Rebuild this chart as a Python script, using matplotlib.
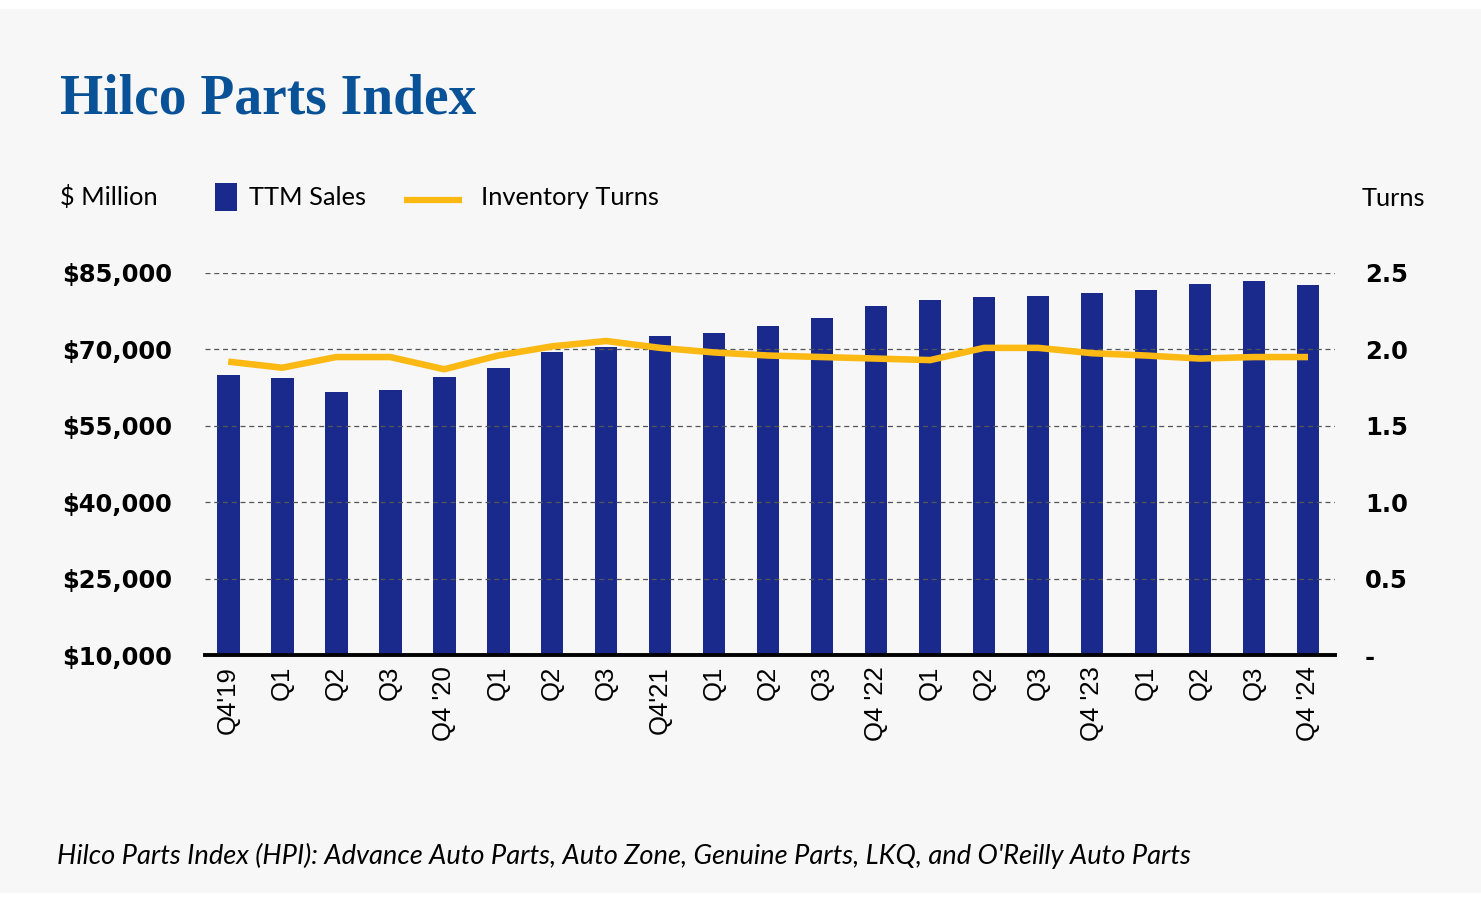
import matplotlib
matplotlib.use("Agg")
import matplotlib.pyplot as plt
from matplotlib.patches import Rectangle
from matplotlib.lines import Line2D
import numpy as np

# ---- data ----
quarters = ["Q4'19", "Q1", "Q2", "Q3", "Q4 '20", "Q1", "Q2", "Q3", "Q4'21", "Q1", "Q2",
            "Q3", "Q4 '22", "Q1", "Q2", "Q3", "Q4 '23", "Q1", "Q2", "Q3", "Q4 '24"]
ttm_sales = [64950, 64350, 61700, 62000, 64650, 66400, 69400, 70550, 72600, 73200, 74650,
             76100, 78450, 79650, 80250, 80550, 81150, 81700, 82900, 83450, 82650]
inventory_turns = [1.92, 1.88, 1.95, 1.95, 1.87, 1.96, 2.02, 2.055, 2.01, 1.98, 1.96,
                   1.95, 1.94, 1.93, 2.01, 2.01, 1.975, 1.96, 1.94, 1.95, 1.95]
left_ticks = [10000, 25000, 40000, 55000, 70000, 85000]
left_labels = ["$10,000", "$25,000", "$40,000", "$55,000", "$70,000", "$85,000"]
right_ticks = [0, 0.5, 1.0, 1.5, 2.0, 2.5]
right_labels = ["-", "0.5", "1.0", "1.5", "2.0", "2.5"]

BAR = "#1A2A8C"
LINE = "#FDB913"
TITLE = "#0A5298"
BG = "#F7F7F7"

W, H = 1481, 897
fig = plt.figure(figsize=(W / 100, H / 100), dpi=100, facecolor="white")
fig.patches.append(Rectangle((0, 1 - 893 / H), 1, (893 - 9) / H, transform=fig.transFigure,
                             facecolor=BG, edgecolor="none", zorder=-10))

ax = fig.add_axes([205 / W, 1 - 655 / H, 1130 / W, 382 / H])
ax.set_facecolor("none")
x = np.arange(len(quarters))
ax.bar(x, ttm_sales, width=0.42, color=BAR, zorder=2)
ax.set_ylim(10000, 85000)
ax.set_xlim(-0.43, len(quarters) - 0.5)
ax.set_yticks(left_ticks)
ax.set_yticklabels(left_labels, fontfamily="DejaVu Sans", fontweight="bold", fontsize=17.5)
ax.set_xticks(x)
ax.set_xticklabels(quarters, rotation=90, fontfamily="Liberation Sans", fontsize=18.5,
                   va="top", ha="center")
ax.tick_params(axis="y", length=0, pad=23.5)
ax.tick_params(axis="x", length=0, pad=8)
for s in ["top", "right", "left"]:
    ax.spines[s].set_visible(False)
ax.spines["bottom"].set_linewidth(2.8)
ax.spines["bottom"].set_color("black")
ax.spines["bottom"].set_zorder(5)
for t in left_ticks[1:]:
    ax.axhline(t, color="#555555", lw=0.9, ls=(0, (4, 3)), zorder=3)

ax2 = ax.twinx()
ax2.set_facecolor("none")
ax2.plot(x, inventory_turns, color=LINE, lw=4.7, solid_capstyle="butt",
         solid_joinstyle="miter", zorder=4)
ax2.set_ylim(0, 2.5)
ax2.set_yticks(right_ticks)
ax2.set_yticklabels(right_labels, fontfamily="DejaVu Sans", fontweight="bold", fontsize=17.5)
ax2.tick_params(axis="y", length=0, pad=21.5)
for s in ["top", "right", "left", "bottom"]:
    ax2.spines[s].set_visible(False)

# title
fig.text(60 / W, 1 - 113 / H, "Hilco Parts Index", fontfamily="Liberation Serif",
         fontweight="bold", fontsize=40, color=TITLE, va="baseline", ha="left")

# legend row
ty = 1 - 205 / H
fig.text(60 / W, ty, "$ Million", fontfamily="Lato", fontsize=18.3, va="baseline", ha="left")
fig.patches.append(Rectangle((215 / W, 1 - 211 / H), 22 / W, 28 / H, transform=fig.transFigure,
                             facecolor=BAR, edgecolor="none"))
fig.text(249 / W, ty, "TTM Sales", fontfamily="Lato", fontsize=18.3, va="baseline", ha="left")
fig.lines.append(Line2D([404 / W, 462 / W], [1 - 200 / H, 1 - 200 / H], transform=fig.transFigure,
                        color=LINE, lw=4.5, solid_capstyle="butt"))
fig.text(481 / W, ty, "Inventory Turns", fontfamily="Lato", fontsize=18.3, va="baseline", ha="left")
fig.text(1362 / W, 1 - 206 / H, "Turns", fontfamily="Lato", fontsize=18.3, va="baseline", ha="left")

# footnote
fig.text(57 / W, 1 - 864 / H,
         "Hilco Parts Index (HPI): Advance Auto Parts, Auto Zone, Genuine Parts, LKQ, and O'Reilly Auto Parts",
         fontfamily="Lato", fontstyle="italic", fontsize=19.6, va="baseline", ha="left")

fig.savefig("out.png", dpi=100, facecolor="white")
